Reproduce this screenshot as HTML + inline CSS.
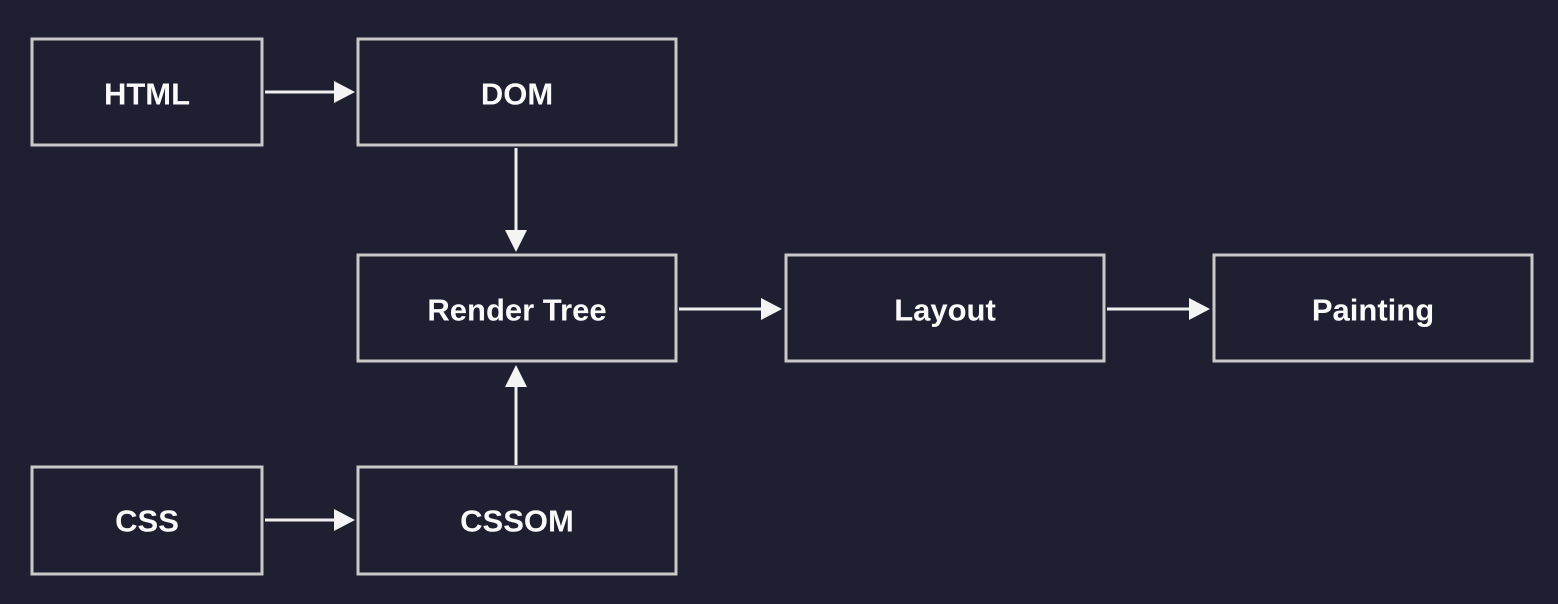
<!DOCTYPE html>
<html><head><style>
body{margin:0;background:#1e1f31;}
svg{display:block}
text{font-family:"Liberation Sans",sans-serif;font-weight:bold;font-size:31px;fill:#fafafa;text-anchor:middle;dominant-baseline:central}
rect{fill:none;stroke:#c9c9c9;stroke-width:3}
line{stroke:#f0f0f0;stroke-width:3}
polygon{fill:#f4f4f4}
</style></head><body>
<svg width="1558" height="604" viewBox="0 0 1558 604">
<rect x="32" y="39" width="230" height="106"/>
<rect x="358" y="39" width="318" height="106"/>
<rect x="358" y="255" width="318" height="106"/>
<rect x="786" y="255" width="318" height="106"/>
<rect x="1214" y="255" width="318" height="106"/>
<rect x="32" y="467" width="230" height="107"/>
<rect x="358" y="467" width="318" height="107"/>
<text x="147" y="94">HTML</text>
<text x="517" y="94">DOM</text>
<text x="517" y="310">Render Tree</text>
<text x="945" y="310">Layout</text>
<text x="1373" y="310">Painting</text>
<text x="147" y="521">CSS</text>
<text x="517" y="521">CSSOM</text>
<line x1="265" y1="92" x2="338" y2="92"/><polygon points="334,81 355,92 334,103"/>
<line x1="265" y1="520" x2="338" y2="520"/><polygon points="334,509 355,520 334,531"/>
<line x1="679" y1="309" x2="765" y2="309"/><polygon points="761,298 782,309 761,320"/>
<line x1="1107" y1="309" x2="1193" y2="309"/><polygon points="1189,298 1210,309 1189,320"/>
<line x1="516" y1="148" x2="516" y2="234"/><polygon points="505,230 516,252 527,230"/>
<line x1="516" y1="465" x2="516" y2="383"/><polygon points="505,387 516,365 527,387"/>
</svg>
</body></html>
